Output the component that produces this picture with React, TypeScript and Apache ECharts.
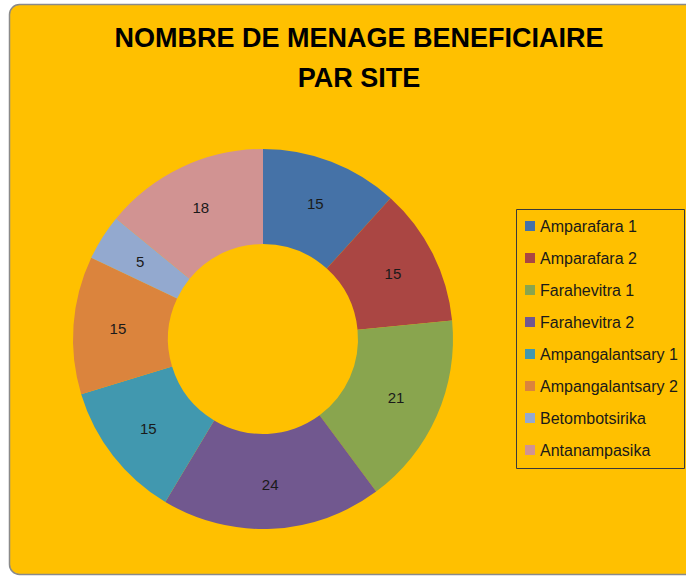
import React, { useEffect, useRef } from "react";
import * as echarts from "echarts";

const titleLines = ["NOMBRE DE MENAGE BENEFICIAIRE", "PAR SITE"];
const sites = [
  "Amparafara 1",
  "Amparafara 2",
  "Farahevitra 1",
  "Farahevitra 2",
  "Ampangalantsary 1",
  "Ampangalantsary 2",
  "Betombotsirika",
  "Antanampasika",
];
const menages = [15, 15, 21, 24, 15, 15, 5, 18];
const colors = ["#4572A7", "#AA4643", "#89A54E", "#71588F", "#4198AF", "#DB843D", "#93A9CF", "#D19392"];

export default function App() {
  const ref = useRef<HTMLDivElement>(null);
  useEffect(() => {
    if (!ref.current) return;
    const chart = echarts.init(ref.current, undefined, { renderer: "svg" });
    chart.setOption({
      animation: false,
      backgroundColor: "#ffffff",
      color: colors,
      graphic: [
        {
          type: "rect",
          z: -10,
          shape: { x: 9.5, y: 4.5, width: 700, height: 570, r: 10 },
          style: { fill: "#FFC000", stroke: "#8a8a8a", lineWidth: 1.5 },
        },
        {
          type: "rect",
          z: -5,
          shape: { x: 516.5, y: 209.5, width: 168, height: 259 },
          style: { fill: "none", stroke: "#3a3a3a", lineWidth: 1 },
        },
      ],
      title: {
        text: titleLines.join("\n"),
        left: 354,
        textAlign: "center",
        top: 13,
        textStyle: {
          fontFamily: "Liberation Sans",
          fontWeight: "bold",
          fontSize: 27,
          lineHeight: 40,
          color: "#000000",
        },
      },
      legend: {
        orient: "vertical",
        left: 525,
        top: 218,
        padding: 0,
        itemWidth: 10,
        itemHeight: 10,
        itemGap: 16,
        icon: "rect",
        data: sites,
        textStyle: {
          fontFamily: "Liberation Sans",
          fontSize: 16,
          lineHeight: 16,
          color: "#1a1a1a",
        },
      },
      series: [
        {
          type: "pie",
          center: [263, 339],
          radius: [95, 190],
          startAngle: 90,
          clockwise: true,
          avoidLabelOverlap: false,
          label: {
            show: true,
            position: "inside",
            formatter: "{c}",
            fontFamily: "Liberation Sans",
            fontSize: 15,
            color: "#1a1a1a",
          },
          labelLine: { show: false },
          itemStyle: { borderWidth: 0 },
          emphasis: { disabled: true },
          data: sites.map((s, i) => ({ name: s, value: menages[i] })),
        },
      ],
    });
    return () => chart.dispose();
  }, []);
  return <div ref={ref} style={{ position: "fixed", left: 0, top: 0, width: 686, height: 576 }} />;
}
